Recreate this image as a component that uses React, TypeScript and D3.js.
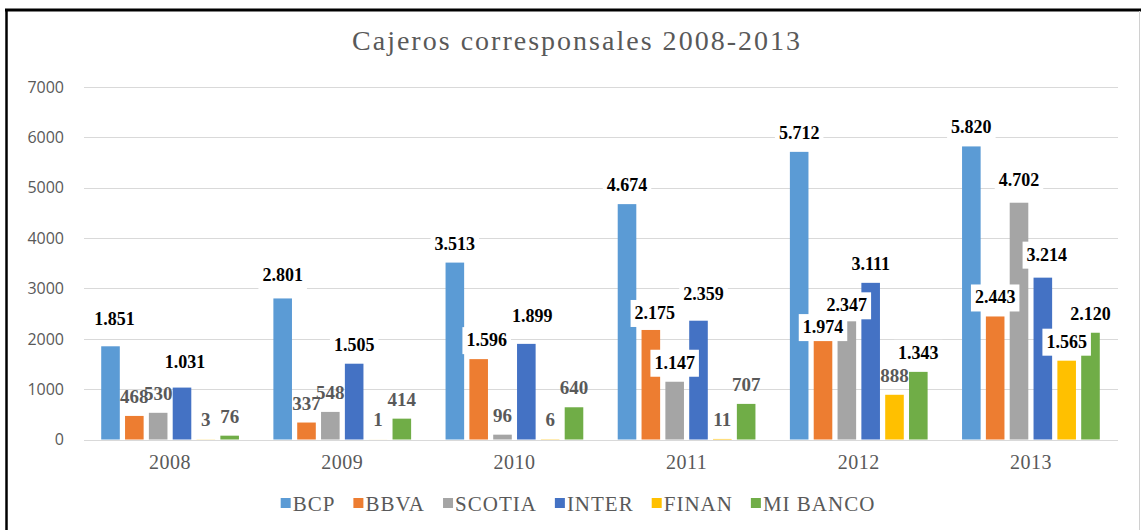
import React, { useRef, useEffect } from "react";
import * as d3 from "d3";

const years = ["2008", "2009", "2010", "2011", "2012", "2013"];
const banks = ["BCP", "BBVA", "SCOTIA", "INTER", "FINAN", "MI BANCO"];
const bcp = [1851, 2801, 3513, 4674, 5712, 5820];
const bbva = [468, 337, 1596, 2175, 1974, 2443];
const scotia = [530, 548, 96, 1147, 2347, 4702];
const inter = [1031, 1505, 1899, 2359, 3111, 3214];
const finan = [3, 1, 6, 11, 888, 1565];
const miBanco = [76, 414, 640, 707, 1343, 2120];
const yTicks = [0, 1000, 2000, 3000, 4000, 5000, 6000, 7000];
const bankColors = ["#5B9BD5", "#ED7D31", "#A5A5A5", "#4472C4", "#FFC000", "#70AD47"];

// the labels were dragged by hand in the original, small nudges [dx, dy]
const labelNudge: Record<string, [number, number]> = {
  "BCP-2008": [4, -8],
  "INTER-2008": [3, -7],
  "BCP-2009": [0, -4],
  "BBVA-2010": [8, 0],
  "INTER-2010": [6, -9],
  "BBVA-2011": [4, 2],
  "INTER-2011": [5, -8],
  "BBVA-2012": [0, 6],
  "SCOTIA-2012": [0, 3],
  "SCOTIA-2013": [0, -4],
  "INTER-2013": [4, -4],
};

const W = 1141;
const H = 530;
const serif = "'Liberation Serif', 'Times New Roman', serif";
const gray = "#595959";

function App() {
  const svgRef = useRef<SVGSVGElement>(null);

  useEffect(() => {
    const svg = d3.select(svgRef.current);
    svg.selectAll("*").remove();

    const values = [bcp, bbva, scotia, inter, finan, miBanco];
    const rows = years.map((year, i) => ({
      year,
      items: banks.map((bank, j) => ({ bank, year, value: values[j][i], color: bankColors[j] })),
    }));

    const x0 = d3.scaleBand().domain(years).range([84, 1117]).paddingInner(0.2).paddingOuter(0.1);
    const x1 = d3.scaleBand().domain(banks).range([0, x0.bandwidth()]).paddingInner(0.22);
    const y = d3.scaleLinear().domain([0, 7000]).range([439.5, 87]);
    const fmt = d3
      .formatLocale({ decimal: ",", thousands: ".", grouping: [3], currency: ["", ""] })
      .format(",d");

    svg.append("rect").attr("width", W).attr("height", H).attr("fill", "#fff");

    // frame
    svg.append("line").attr("x1", 6.5).attr("x2", 6.5).attr("y1", 9).attr("y2", H)
      .attr("stroke", "#000").attr("stroke-width", 2.5);
    svg.append("line").attr("x1", 5).attr("x2", W).attr("y1", 10).attr("y2", 10)
      .attr("stroke", "#000").attr("stroke-width", 3);
    svg.append("line").attr("x1", 1139.5).attr("x2", 1139.5).attr("y1", 11).attr("y2", H)
      .attr("stroke", "#d0d0d0").attr("stroke-width", 1);

    // title
    svg.append("text")
      .attr("x", 352).attr("y", 50)
      .attr("textLength", 448).attr("lengthAdjust", "spacing")
      .style("font-family", serif).style("font-size", "28px").attr("fill", gray)
      .text("Cajeros corresponsales 2008-2013");

    // grid + y labels
    const grid = svg.append("g");
    grid.selectAll("line").data(yTicks).join("line")
      .attr("x1", 84).attr("x2", 1118)
      .attr("y1", (d) => Math.round(y(d)) + 0.5).attr("y2", (d) => Math.round(y(d)) + 0.5)
      .attr("stroke", "#d9d9d9").attr("stroke-width", 1.2);
    grid.selectAll("text").data(yTicks).join("text")
      .attr("x", 64).attr("y", (d) => y(d)).attr("dy", "0.36em")
      .attr("text-anchor", "end")
      .style("font-family", "'Open Sans', sans-serif").style("font-size", "16px")
      .attr("fill", gray)
      .text((d) => d);

    // bars
    const groups = svg.append("g").selectAll("g").data(rows).join("g")
      .attr("transform", (d) => `translate(${x0(d.year)},0)`);
    groups.selectAll("rect").data((d) => d.items).join("rect")
      .attr("x", (d) => x1(d.bank)!)
      .attr("width", x1.bandwidth())
      .attr("y", (d) => y(d.value))
      .attr("height", (d) => y(0) - y(d.value))
      .attr("fill", (d) => d.color);

    // year labels
    svg.append("g").selectAll("text").data(years).join("text")
      .attr("x", (d) => x0(d)! + x0.bandwidth() / 2).attr("y", 469)
      .attr("text-anchor", "middle")
      .style("font-family", serif).style("font-size", "20px").style("letter-spacing", "0.5px")
      .attr("fill", gray)
      .text((d) => d);

    // value labels
    const labelLayer = svg.append("g");
    rows.forEach((row) => {
      row.items.forEach((d) => {
        const nudge = labelNudge[`${d.bank}-${d.year}`] || [0, 0];
        const cx = x0(d.year)! + x1(d.bank)! + x1.bandwidth() / 2 + nudge[0];
        const by = y(d.value) - 13 + nudge[1];
        const big = d.value >= 1000;
        const g = labelLayer.append("g");
        const t = g.append("text")
          .attr("x", cx).attr("y", by)
          .attr("text-anchor", "middle")
          .style("font-family", serif).style("font-weight", "bold")
          .style("font-size", big ? "18px" : "19px")
          .attr("fill", big ? "#000" : gray)
          .text(fmt(d.value));
        if (big) {
          const w = (t.node() as SVGTextElement).getComputedTextLength();
          g.insert("rect", "text")
            .attr("x", cx - w / 2 - 4).attr("y", by - 19)
            .attr("width", w + 8).attr("height", 27)
            .attr("fill", "#fff");
        }
      });
    });

    // legend
    const legend = svg.append("g");
    let lx = 0;
    banks.forEach((bank, i) => {
      const item = legend.append("g").attr("transform", `translate(${lx},0)`);
      item.append("rect").attr("x", 0).attr("y", 498).attr("width", 10).attr("height", 10)
        .attr("fill", bankColors[i]);
      const t = item.append("text").attr("x", 12).attr("y", 511)
        .style("font-family", serif).style("font-size", "21px").style("letter-spacing", "1px")
        .attr("fill", gray).text(bank);
      lx += 12 + (t.node() as SVGTextElement).getComputedTextLength() + 18;
    });
    const total = lx - 18;
    legend.attr("transform", `translate(${578 - total / 2},0)`);
  }, []);

  return (
    <div style={{ position: "absolute", left: 0, top: 0 }}>
      <svg ref={svgRef} width={W} height={H} style={{ display: "block" }}></svg>
    </div>
  );
}

export default App;
